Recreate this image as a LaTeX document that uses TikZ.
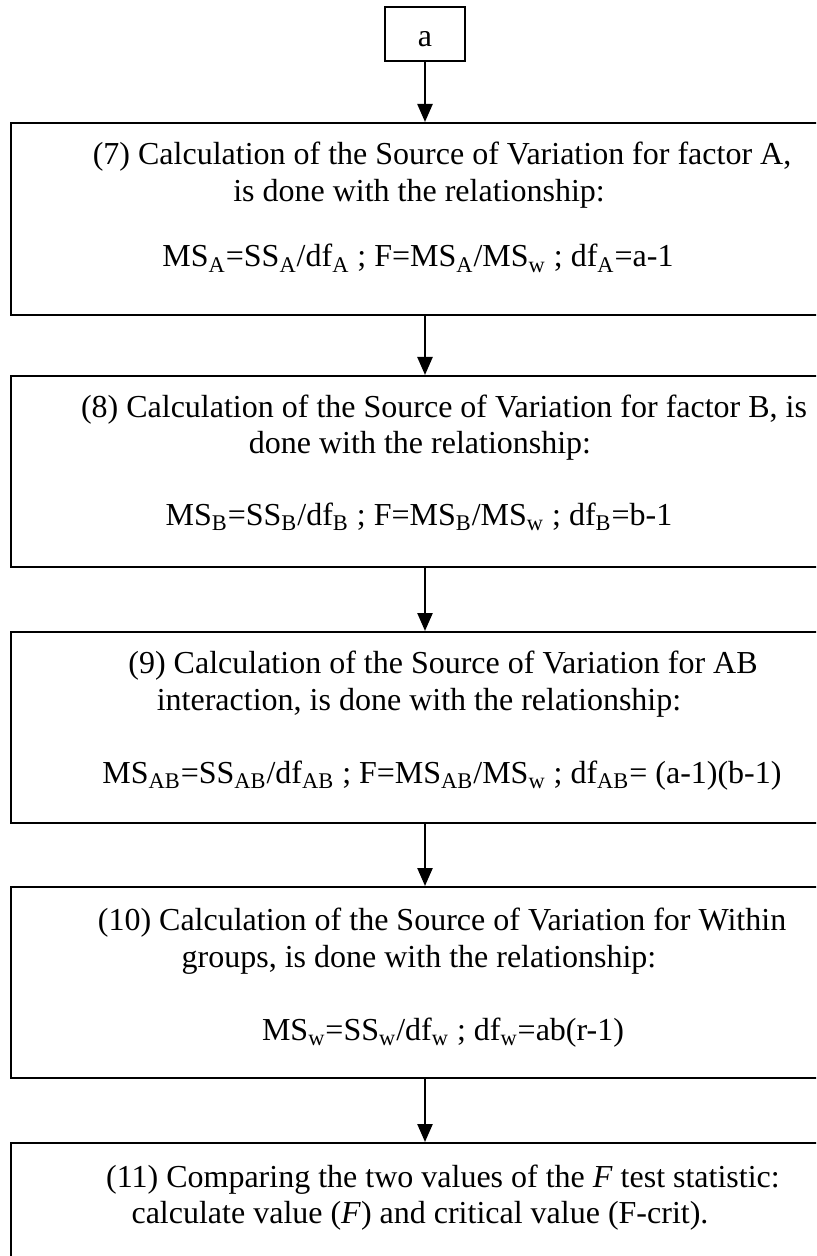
\documentclass[tikz,border=0pt]{standalone}
\usepackage{fontspec}
\setmainfont{Liberation Serif}
\usetikzlibrary{arrows.meta}
\newcommand{\sbs}[1]{\textsubscript{#1}}
\begin{document}
\begin{tikzpicture}[x=0.5pt,y=-0.5pt,
  box/.style={draw, line width=1pt, inner sep=0pt, minimum width=414pt},
  txt/.style={anchor=base, inner sep=0pt, font=\fontsize{16}{18}\selectfont},
  arr/.style={line width=1.2pt, -{Triangle[width=7.5pt,length=9pt]}}]
\useasboundingbox (0,0) rectangle (816,1256);
\clip (0,0) rectangle (816,1256);
% top connector box
\node[box, minimum width=40pt, minimum height=27pt] (a) at (425,34) {};
\node[txt] (ta) at (425,47) {a};
% main boxes
\node[box, minimum height=96pt] (b1) at (425,219) {};
\node[box, minimum height=95.5pt] (b2) at (425,471.5) {};
\node[box, minimum height=95.5pt] (b3) at (425,727.5) {};
\node[box, minimum height=95.5pt] (b4) at (425,982.5) {};
\node[box, minimum height=100pt] (b5) at (425,1243) {};
% arrows
\draw[arr] (a.south) -- (b1.north);
\draw[arr] (b1.south) -- (b2.north);
\draw[arr] (b2.south) -- (b3.north);
\draw[arr] (b3.south) -- (b4.north);
\draw[arr] (b4.south) -- (b5.north);
% box 1
\node[txt] (t1a) at (442,165) {(7) Calculation of the Source of Variation for factor A,};
\node[txt] (t1b) at (419,202) {is done with the relationship:};
\node[txt] (t1c) at (418,267) {MS\sbs{A}=SS\sbs{A}/df\sbs{A} ; F=MS\sbs{A}/MS\sbs{w} ; df\sbs{A}=a-1};
% box 2
\node[txt] (t2a) at (444,417) {(8) Calculation of the Source of Variation for factor B, is};
\node[txt] (t2b) at (420,453) {done with the relationship:};
\node[txt] (t2c) at (419,525) {MS\sbs{B}=SS\sbs{B}/df\sbs{B} ; F=MS\sbs{B}/MS\sbs{w} ; df\sbs{B}=b-1};
% box 3
\node[txt] (t3a) at (443,673) {(9) Calculation of the Source of Variation for AB};
\node[txt] (t3b) at (419,710) {interaction, is done with the relationship:};
\node[txt] (t3c) at (442,783) {MS\sbs{AB}=SS\sbs{AB}/df\sbs{AB} ; F=MS\sbs{AB}/MS\sbs{w} ; df\sbs{AB}= (a-1)(b-1)};
% box 4
\node[txt] (t4a) at (442,930) {(10) Calculation of the Source of Variation for Within};
\node[txt] (t4b) at (419,967) {groups, is done with the relationship:};
\node[txt] (t4c) at (443,1040) {MS\sbs{w}=SS\sbs{w}/df\sbs{w} ; df\sbs{w}=ab(r-1)};
% box 5
\node[txt] (t5a) at (443,1187) {(11) Comparing the two values of the \textit{F} test statistic:};
\node[txt] (t5b) at (420,1223) {calculate value (\textit{F}) and critical value (F-crit).};
\end{tikzpicture}
\end{document}
